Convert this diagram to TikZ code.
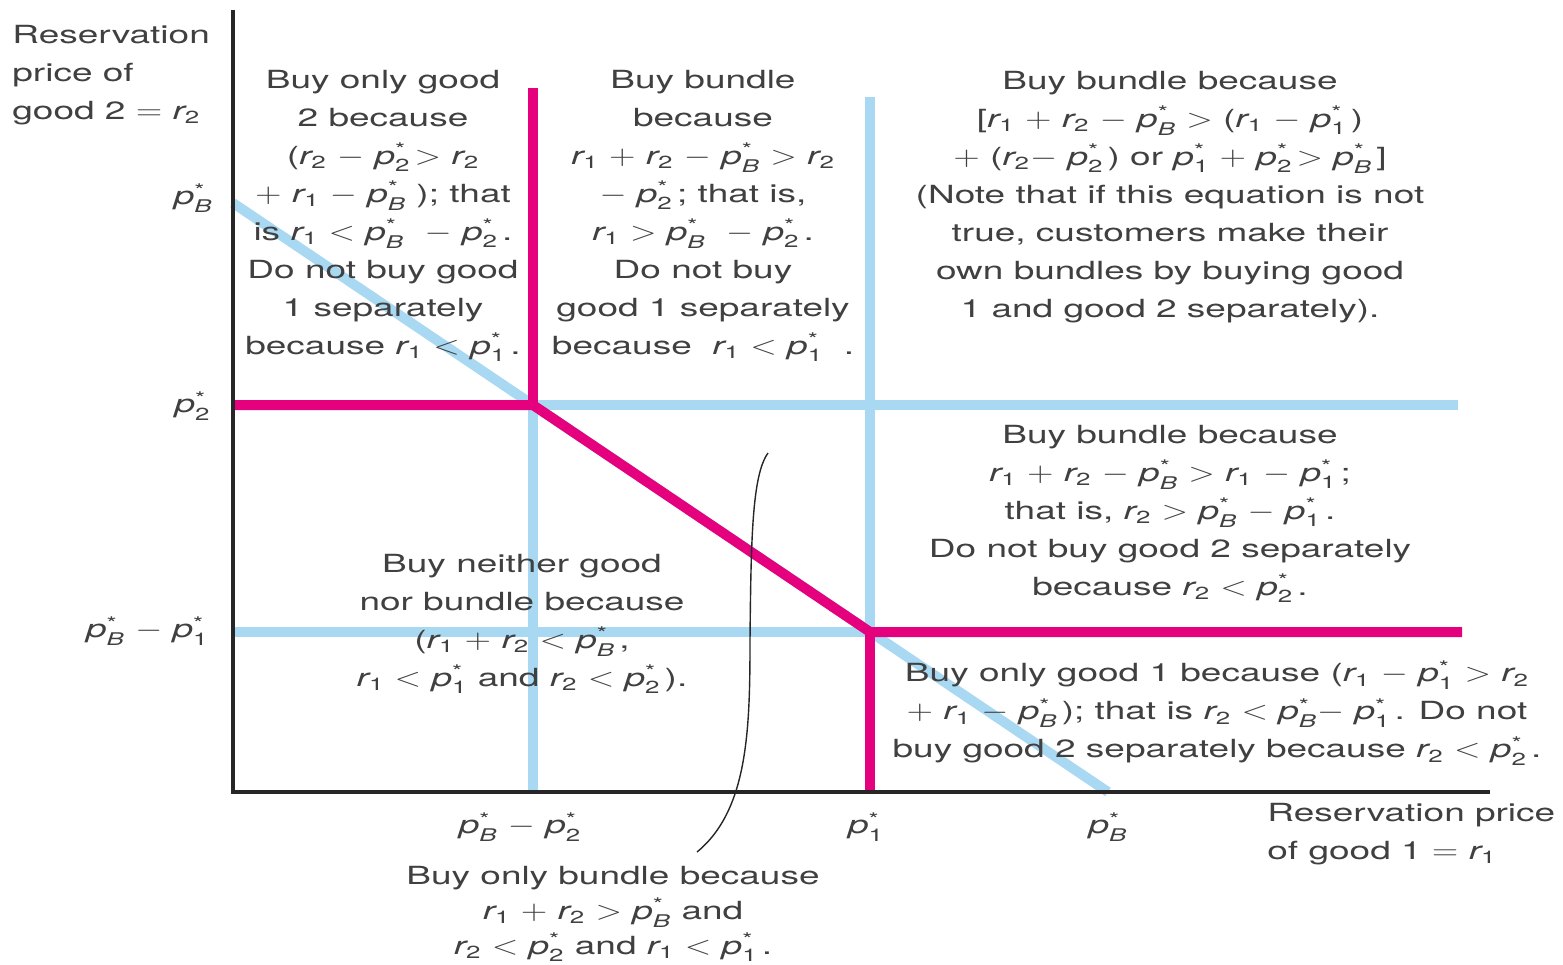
\documentclass[tikz,border=0pt]{standalone}
\usepackage{amsmath}
\usepackage{graphicx}
\usepackage{fontspec}
\setmainfont{TeX Gyre Heros}[FakeStretch=1.48]
\usepackage{xcolor}
\definecolor{bundlepink}{HTML}{E5007E}
\definecolor{bundleblue}{HTML}{A9D9F2}
\definecolor{inkgray}{HTML}{404040}
\newcommand{\rres}[1]{$\textit{r}_{\textup{#1}}$}
\newcommand{\pstar}[1]{$\textit{p}^{\textup{*}}_{\textup{#1}}$}
\newcommand{\pbund}{$\textit{p}^{\textup{*}}_{\textit{B}}$}
\newcommand{\wideop}[1]{\scalebox{1.45}[1.12]{$#1$}}
\newcommand{\mns}{\wideop{-}}
\newcommand{\pls}{\wideop{+}}
\newcommand{\lss}{\wideop{<}}
\newcommand{\grt}{\wideop{>}}
\newcommand{\eqs}{\wideop{=}}

\begin{document}
\begin{tikzpicture}[x=0.5pt,y=-0.5pt,
    pinkline/.style={bundlepink,line width=5pt},
    blueline/.style={bundleblue,line width=5pt},
    axisline/.style={black!85,line width=2pt},
    region/.style={align=center,inner sep=0pt,text=inkgray,font=\fontsize{12.5}{19}\selectfont},
    ticklabel/.style={inner sep=0pt,text=inkgray,font=\fontsize{12.5}{19}\selectfont}]
  \useasboundingbox (0,0) rectangle (1563,964);
  \coordinate (O) at (233,792);
  \coordinate (kink) at (533,405);
  \coordinate (corner) at (870,632);
  % blue boundaries
  \draw[blueline] (233,203) -- (1108,792);
  \draw[blueline] (kink) -- (533,792);
  \draw[blueline] (kink) -- (1458,405);
  \draw[blueline] (870,97) -- (corner) -- (233,632);
  % pink boundaries
  \draw[pinkline] (233,405) -- (kink) -- (corner) -- (1462,632);
  \draw[pinkline] (533,88) -- (kink);
  \draw[pinkline] (corner) -- (870,792);
  % axes
  \draw[axisline] (233,10) -- (O) -- (1490,792);
  % axis labels
  \node[ticklabel,align=left,anchor=west] (ylab) at (12,75) {Reservation\\price of\\good 2 \eqs\ \rres{2}};
  \node[ticklabel,align=left,anchor=west] (xlab) at (1267,834) {Reservation price\\of good 1 \eqs\ \rres{1}};
  \node[ticklabel,anchor=east] (ypB) at (213,198) {\pbund};
  \node[ticklabel,anchor=east] (yp2) at (211,406) {\pstar{2}};
  \node[ticklabel,anchor=east] (ypBp1) at (209,631) {\pbund\ \mns\ \pstar{1}};
  \node[ticklabel] (xpBp2) at (520,827) {\pbund\ \mns\ \pstar{2}};
  \node[ticklabel] (xp1) at (866,827) {\pstar{1}};
  \node[ticklabel] (xpB) at (1108,827) {\pbund};
  % regions
  \node[region] (onlytwo) at (383,216) {Buy only good\\2 because\\(\rres{2} \mns\ \pstar{2}\,\grt\ \rres{2}\\\pls\ \rres{1} \mns\ \pbund\ ); that\\is \rres{1} \lss\ \pbund\ \ \mns\ \pstar{2}\,.\\Do not buy good\\1 separately\\because \rres{1} \lss\ \pstar{1}\,.};
  \node[region] (bundleup) at (703,216) {Buy bundle\\because\\\rres{1} \pls\ \rres{2} \mns\ \pbund\ \grt\ \rres{2}\\\mns\ \pstar{2}\,; that is,\\\rres{1} \grt\ \pbund\ \ \mns\ \pstar{2}\,.\\Do not buy\\good 1 separately\\because \ \rres{1} \lss\ \pstar{1}\ \ .};
  \node[region] (bundleboth) at (1170,197) {Buy bundle because\\{}[\rres{1} \pls\ \rres{2} \mns\ \pbund\ \grt\ (\rres{1} \mns\ \pstar{1}\,)\\\pls\ (\rres{2}\mns\ \pstar{2}\,) or \pstar{1} \pls\ \pstar{2}\,\grt\ \pbund\,]\\(Note that if this equation is not\\true, customers make their\\own bundles by buying good\\1 and good 2 separately).};
  \node[region] (bundleright) at (1170,514) {Buy bundle because\\\rres{1} \pls\ \rres{2} \mns\ \pbund\ \grt\ \rres{1} \mns\ \pstar{1}\,;\\that is, \rres{2} \grt\ \pbund\ \mns\ \pstar{1}\,.\\Do not buy good 2 separately\\because \rres{2} \lss\ \pstar{2}\,.};
  \node[region] (onlyone) at (1217,713) {Buy only good 1 because (\rres{1} \mns\ \pstar{1}\ \grt\ \rres{2}\\\pls\ \rres{1} \mns\ \pbund\,); that is \rres{2} \lss\ \pbund\mns\ \pstar{1}\,. Do not\\buy good 2 separately because \rres{2} \lss\ \pstar{2}\,.};
  \node[region] (neither) at (522,624) {Buy neither good\\nor bundle because\\(\rres{1} \pls\ \rres{2} \lss\ \pbund\,,\\\rres{1} \lss\ \pstar{1}\ and \rres{2} \lss\ \pstar{2}\,).};
  \node[region,font=\fontsize{12.5}{17.5}\selectfont] (onlybundle) at (613,914) {Buy only bundle because\\\rres{1} \pls\ \rres{2} \grt\ \pbund\ and\\\rres{2} \lss\ \pstar{2}\ and \rres{1} \lss\ \pstar{1}\,.};
  % pointer to the bundle-only strip
  \coordinate (striptop) at (768,453);
  \coordinate (stripfoot) at (697,852);
  \draw[black!85,line width=0.7pt] (striptop) .. controls (752,475) and (751,540) .. (750,640)
    .. controls (750,730) and (748,810) .. (stripfoot);
\end{tikzpicture}
\end{document}
